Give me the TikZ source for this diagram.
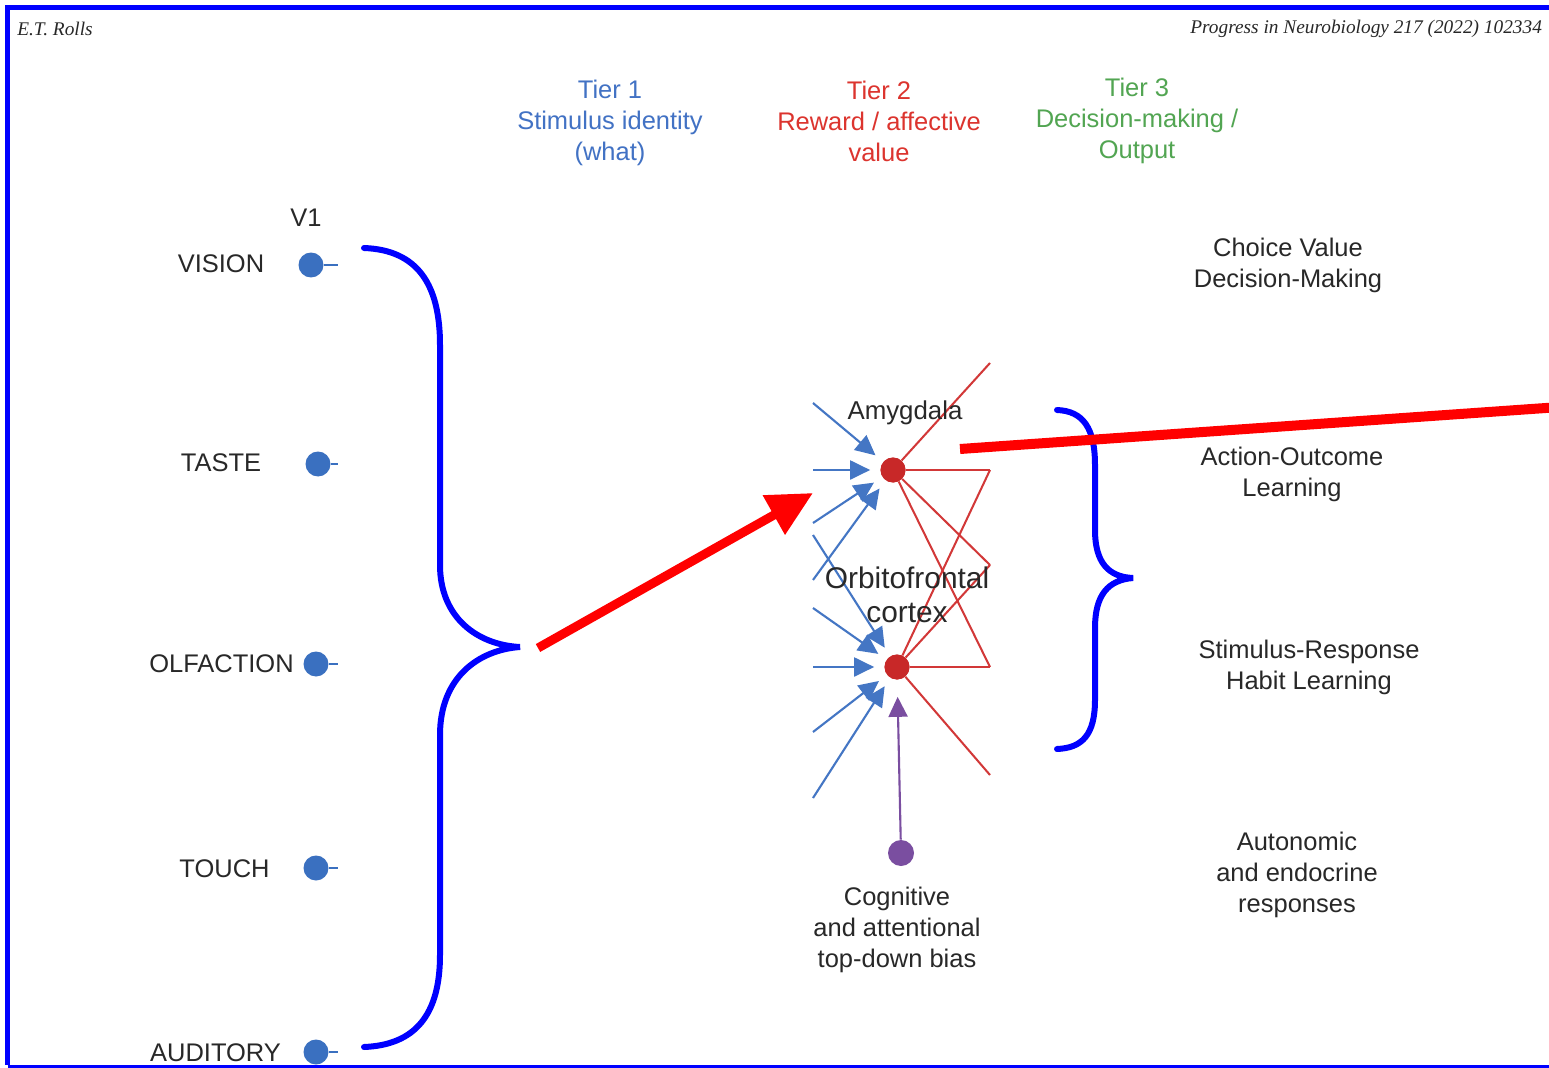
\documentclass[tikz,border=0pt]{standalone}
\usepackage{fontspec}
\setmainfont{Liberation Sans}
\newfontfamily\hdrfont{Liberation Serif}
\usetikzlibrary{arrows.meta}
\definecolor{frameblue}{RGB}{0,0,255}
\definecolor{dotblue}{RGB}{58,112,192}
\definecolor{arrblue}{RGB}{68,118,196}
\definecolor{tierblue}{RGB}{66,114,196}
\definecolor{tierred}{RGB}{220,52,46}
\definecolor{tiergreen}{RGB}{82,165,82}
\definecolor{netred}{RGB}{210,56,56}
\definecolor{nodered}{RGB}{200,40,40}
\definecolor{purp}{RGB}{122,78,160}
\definecolor{txt}{RGB}{40,40,40}
\begin{document}
\begin{tikzpicture}[x=0.02cm,y=-0.02cm,
  lbl/.style={font=\fontsize{14.5}{17.6}\selectfont, text=txt, align=center, inner sep=0pt},
  tierlbl/.style={lbl},
  hdr/.style={font=\hdrfont\itshape\fontsize{11}{13}\selectfont, text=txt, inner sep=0pt, anchor=west},
  sensedot/.style={circle, fill=dotblue, minimum size=0.5cm, inner sep=0pt},
  stub/.style={draw=dotblue, line width=0.9pt},
  brace/.style={draw=frameblue, line width=0.12cm, line cap=round},
  netnode/.style={circle, fill=nodered, minimum size=0.5cm, inner sep=0pt},
  net/.style={draw=netred, line width=1.15pt},
  inarrow/.style={draw=arrblue, line width=1.2pt, -{Triangle[length=0.4cm,width=0.38cm]}, shorten >=0.2cm},
  biasarrow/.style={draw=purp, line width=1.2pt, -{Triangle[length=0.4cm,width=0.38cm]}, shorten >=0.34cm},
  bigred/.style={draw=red, line width=0.18cm, -{Triangle[length=0.9cm,width=0.86cm]}},
  redbar/.style={draw=red, line width=0.2cm}
]
\useasboundingbox (0,0) rectangle (1549,1068);
\clip (0,0) rectangle (1549,1068);
\fill[white] (0,0) rectangle (1549,1068);

% frame
\draw[frameblue, line width=0.09cm] (1560,7.5) -- (7.5,7.5) -- (7.5,1065);
\draw[frameblue, line width=0.06cm] (7.5,1066) -- (1560,1066);

% header
\node[hdr] (author) at (17,29) {E.T. Rolls};
\node[hdr] (journal) at (1190,29) {Progress in Neurobiology 217 (2022) 102334};

% tier headings
\node[tierlbl, text=tierblue] (tier1) at (610,123) {Tier 1\\Stimulus identity\\(what)};
\node[tierlbl, text=tierred] (tier2) at (879,121) {Tier 2\\Reward / affective\\value};
\node[tierlbl, text=tiergreen] (tier3) at (1137,121) {Tier 3\\Decision-making /\\Output};

% senses
\node[lbl] (lv1) at (306,218) {V1};
\node[lbl] (lvision) at (221,264) {VISION};
\node[lbl] (ltaste) at (221,463) {TASTE};
\node[lbl] (lolf) at (221.5,664) {OLFACTION};
\node[lbl] (ltouch) at (224.5,869) {TOUCH};
\node[lbl] (laud) at (215.5,1053) {AUDITORY};

\node[sensedot] (dvision) at (311,265) {};
\node[sensedot] (dtaste) at (318,464) {};
\node[sensedot] (dolf) at (316,664) {};
\node[sensedot] (dtouch) at (316,868) {};
\node[sensedot] (daud) at (316,1052) {};
\coordinate (svision) at (338,265);
\coordinate (staste) at (338,464);
\coordinate (solf) at (338,664);
\coordinate (stouch) at (338,868);
\coordinate (saud) at (338,1052);
\draw[stub] (dvision) -- (svision);
\draw[stub] (dtaste) -- (staste);
\draw[stub] (dolf) -- (solf);
\draw[stub] (dtouch) -- (stouch);
\draw[stub] (daud) -- (saud);

% left brace
\draw[brace] (364,248) .. controls (418,250) and (440,285) .. (440,345)
  -- (440,565) .. controls (440,618) and (478,645) .. (520,647)
  .. controls (478,650) and (440,678) .. (440,735)
  -- (440,955) .. controls (440,1015) and (415,1045) .. (364,1047);

% right brace
\draw[brace] (1057,410) .. controls (1083,411) and (1095,428) .. (1095,465)
  -- (1095,530) .. controls (1095,562) and (1108,577) .. (1133,578)
  .. controls (1108,580) and (1095,595) .. (1095,628)
  -- (1095,700) .. controls (1095,735) and (1082,748) .. (1057,749);

% network output lines (red)
\coordinate (oA) at (990,363);
\coordinate (oB) at (990,470);
\coordinate (oC) at (990,565);
\coordinate (oD) at (990,667);
\coordinate (oE) at (990,775);
\node[netnode] (amyg) at (893,470) {};
\node[netnode] (ofc) at (897,667) {};
\draw[net] (amyg) -- (oA);
\draw[net] (amyg) -- (oB);
\draw[net] (amyg) -- (oC);
\draw[net] (amyg) -- (oD);
\draw[net] (ofc) -- (oB);
\draw[net] (ofc) -- (oC);
\draw[net] (ofc) -- (oD);
\draw[net] (ofc) -- (oE);
\node[netnode] at (amyg) {};
\node[netnode] at (ofc) {};

% inputs to amygdala
\coordinate (ia1) at (813,403);
\coordinate (ia2) at (813,470);
\coordinate (ia3) at (813,523);
\coordinate (ia4) at (813,580);
\draw[inarrow] (ia1) -- (amyg);
\draw[inarrow] (ia2) -- (amyg);
\draw[inarrow] (ia3) -- (amyg);
\draw[inarrow] (ia4) -- (amyg);

% inputs to orbitofrontal cortex
\coordinate (io1) at (813,535);
\coordinate (io2) at (813,608);
\coordinate (io3) at (813,667);
\coordinate (io4) at (813,732);
\coordinate (io5) at (813,798);
\draw[inarrow] (io1) -- (ofc);
\draw[inarrow] (io2) -- (ofc);
\draw[inarrow] (io3) -- (ofc);
\draw[inarrow] (io4) -- (ofc);
\draw[inarrow] (io5) -- (ofc);

% top-down bias
\node[circle, fill=purp, minimum size=0.52cm, inner sep=0pt] (bias) at (901,853) {};
\draw[biasarrow] (bias) -- (ofc);

% labels in network
\node[lbl, font=\fontsize{14.7}{17.6}\selectfont] (lamyg) at (905,413) {Amygdala};
\node[lbl, font=\fontsize{17}{19.3}\selectfont] (lofc) at (907,595) {Orbitofrontal\\cortex};
\node[lbl] (lcog) at (897,930) {Cognitive\\and attentional\\top-down bias};

% right labels
\node[lbl] (choice) at (1288,265.5) {Choice Value\\Decision-Making};
\node[lbl] (action) at (1292,474.5) {Action-Outcome\\Learning};
\node[lbl] (stimresp) at (1309,667.5) {Stimulus-Response\\Habit Learning};
\node[lbl] (autonomic) at (1297,875) {Autonomic\\and endocrine\\responses};

% big red arrow and red bar
\coordinate (bigS) at (538,648);
\coordinate (bigT) at (813,493);
\draw[bigred] (bigS) -- (bigT);
\coordinate (barS) at (960,449);
\coordinate (barE) at (1560,407);
\draw[redbar] (barS) -- (barE);
\end{tikzpicture}
\end{document}
